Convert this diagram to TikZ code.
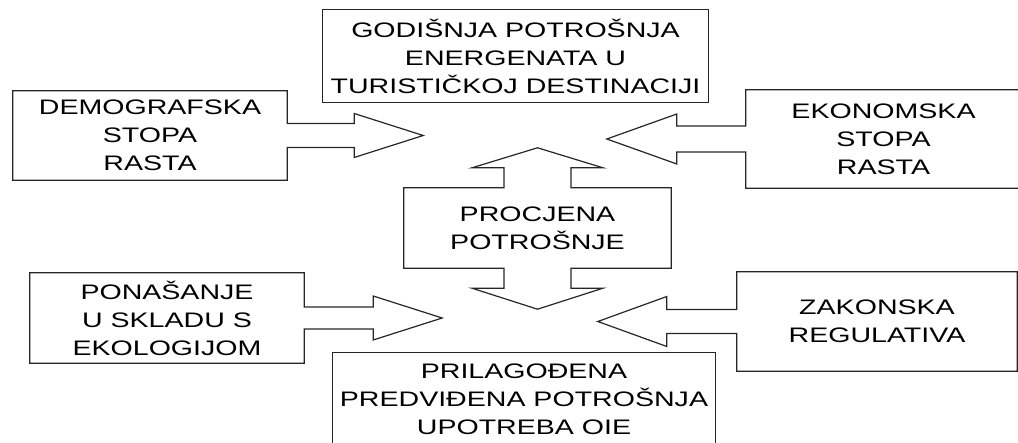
\documentclass[tikz,border=0pt]{standalone}
\usepackage{fontspec}
\newfontfamily\widesans{Liberation Sans}[FakeStretch=1.36]
\usetikzlibrary{calc}
\tikzset{
  box/.style={align=center,inner sep=0pt,font=\widesans\fontsize{21}{28}\selectfont},
  outline/.style={draw=black!85,line width=1.2pt,line join=miter},
}
\begin{document}
\begin{tikzpicture}[x=1pt,y=-1pt]
\clip (0,0) rectangle (1018,443);
\node[box,minimum width=385,minimum height=92] (annual) at (515.5,56) {GODIŠNJA POTROŠNJA\\ENERGENATA U\\TURISTIČKOJ DESTINACIJI};
\node[box,minimum width=274,minimum height=89] (demo) at (150,135.5) {DEMOGRAFSKA\\STOPA\\RASTA};
\node[box,minimum width=275,minimum height=98] (econ) at (883.5,139) {EKONOMSKA\\STOPA\\RASTA};
\node[box,minimum width=267,minimum height=80] (estim) at (537.5,228) {PROCJENA\\POTROŠNJE};
\node[box,minimum width=274,minimum height=90] (behav) at (167,318) {PONAŠANJE\\U SKLADU S\\EKOLOGIJOM};
\node[box,minimum width=280,minimum height=99] (law) at (877,321.5) {ZAKONSKA\\REGULATIVA};
\node[box,minimum width=382,minimum height=92] (adjusted) at (524,399) {PRILAGOĐENA\\PREDVIĐENA POTROŠNJA\\UPOTREBA OIE};
\draw[outline] (annual.north west) rectangle (annual.south east);
\draw[outline] (adjusted.north west) rectangle (adjusted.south east);
\draw[outline] (demo.north west) -- (demo.north east) -- ($(demo.east)+(0,-12)$) -- ++(67,0) -- ++(0,-10)
  -- ++(69,22) -- ++(-69,22) -- ++(0,-10) -- ($(demo.east)+(0,12)$) -- (demo.south east) -- (demo.south west) -- cycle;
\draw[outline] (behav.north west) -- (behav.north east) -- ($(behav.east)+(0,-11)$) -- ++(69,0) -- ++(0,-11)
  -- ++(69,22) -- ++(-69,22) -- ++(0,-11) -- ($(behav.east)+(0,11)$) -- (behav.south east) -- (behav.south west) -- cycle;
\draw[outline] (econ.north east) -- (econ.north west) -- ($(econ.west)+(0,-13)$) -- ++(-69,0) -- ++(0,-12)
  -- ++(-70,25) -- ++(70,25) -- ++(0,-12) -- ($(econ.west)+(0,13)$) -- (econ.south west) -- (econ.south east) -- cycle;
\draw[outline] (law.north east) -- (law.north west) -- ($(law.west)+(0,-12)$) -- ++(-70,0) -- ++(0,-13)
  -- ++(-69,25) -- ++(69,25) -- ++(0,-13) -- ($(law.west)+(0,12)$) -- (law.south west) -- (law.south east) -- cycle;
\draw[outline] (estim.north west) -- ($(estim.north)+(-33.5,0)$) -- ++(0,-20) -- ++(-32,0) -- ++(65.5,-20)
  -- ++(65.5,20) -- ++(-32,0) -- ++(0,20) -- (estim.north east) -- (estim.south east)
  -- ($(estim.south)+(33.5,0)$) -- ++(0,20) -- ++(32,0) -- ++(-65.5,21) -- ++(-65.5,-21) -- ++(32,0)
  -- ++(0,-20) -- (estim.south west) -- cycle;
\end{tikzpicture}
\end{document}
